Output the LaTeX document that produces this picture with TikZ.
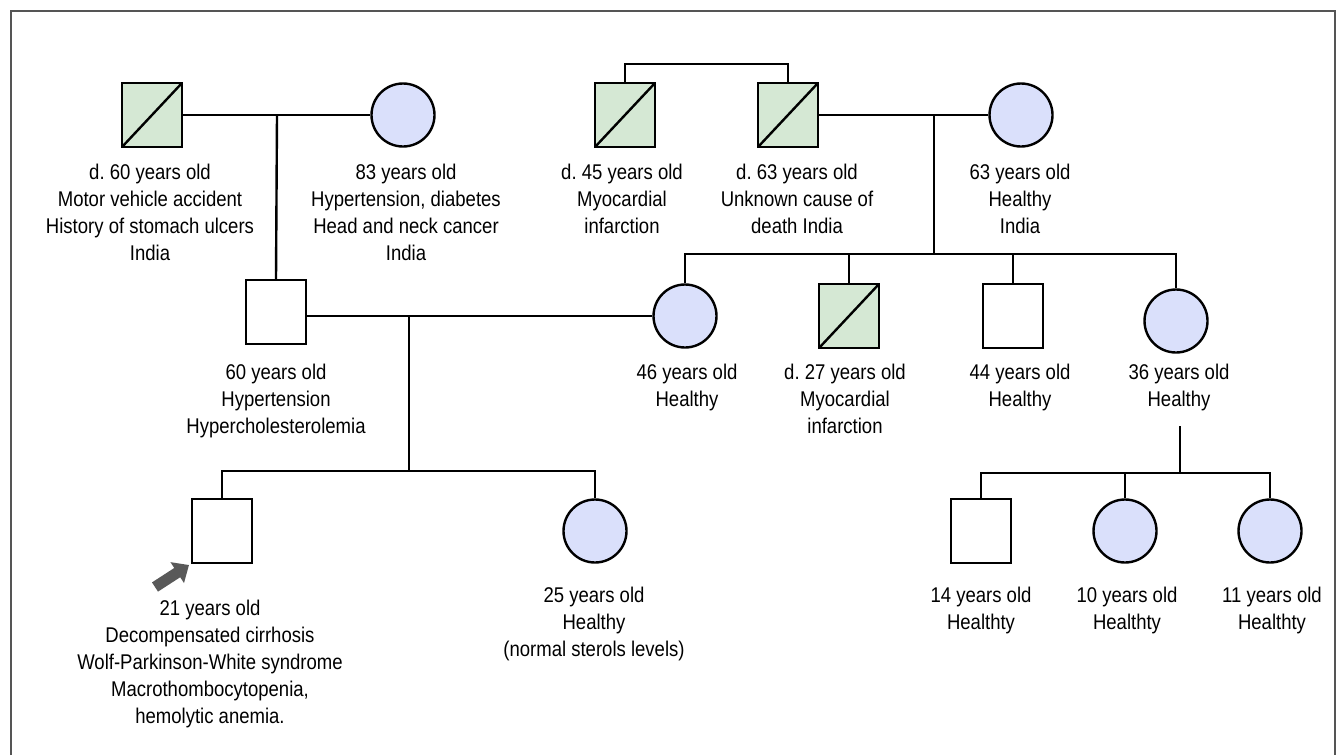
\documentclass[tikz,border=0pt]{standalone}
\usepackage{fontspec}
\setmainfont{Liberation Sans}[FakeStretch=0.87]
\usetikzlibrary{arrows.meta}
\definecolor{deadgreen}{HTML}{D5E8D4}
\definecolor{femblue}{HTML}{DAE0FB}
\definecolor{framegray}{HTML}{555555}
\definecolor{arrowgray}{HTML}{595959}
\tikzset{
  line/.style={line width=2.4pt, black},
  male/.style={draw, line width=2.4pt, rectangle, minimum width=60pt, minimum height=64pt, inner sep=0pt, fill=white},
  female/.style={draw, line width=2.4pt, circle, minimum size=63pt, inner sep=0pt, fill=femblue},
  dead/.style={male, fill=deadgreen, path picture={\draw[line width=2.4pt] (path picture bounding box.south west) -- (path picture bounding box.north east);}},
  lbl/.style={align=center, inner sep=0pt, anchor=north, font=\fontsize{21.3}{27}\selectfont}
}
\frenchspacing
\begin{document}
\frenchspacing
\begin{tikzpicture}[x=1pt,y=-1pt]
\useasboundingbox (0,0) rectangle (1337,755);
% frame (open at the bottom)
\draw[framegray, line width=1.6pt] (11,755) -- (11,11) -- (1335,11) -- (1335,755);

% generation I
\node[dead]   (pgf) at (152,115) {};
\node[female] (pgm) at (403,115) {};
\node[dead]   (unc) at (625,115) {};
\node[dead]   (mgf) at (788,115) {};
\node[female] (mgm) at (1021,115) {};

% generation II
\node[male]   (fa)  at (276,312) {};
\node[female] (mo)  at (685,316) {};
\node[dead]   (db)  at (849,316) {};
\node[male]   (b44) at (1013,316) {};
\node[female] (s36) at (1176,321) {};

% generation III
\node[male]   (pro) at (222,531) {};
\node[female] (sis) at (595,531) {};
\node[male]   (c14) at (981,531) {};
\node[female] (c10) at (1125,531) {};
\node[female] (c11) at (1270,531) {};

% junction coordinates
\coordinate (j1) at (277,115);
\coordinate (j2) at (934,115);
\coordinate (j2b) at (934,254);
\coordinate (j3) at (409,316);
\coordinate (j3b) at (409,471);
\coordinate (j4) at (1180,426);
\coordinate (j4b) at (1180,473);
\coordinate (atail) at (155,587);
\coordinate (atip) at (189,565);

% connectors
\draw[line] (pgf.east) -- (pgm.west);
\draw[line] (j1) -- (fa.north);
\draw[line] (unc.north) -- ++(0,-18) -| (mgf.north);
\draw[line] (mgf.east) -- (mgm.west);
\draw[line] (j2) -- (j2b);
\draw[line] (mo.north) -- (mo.north |- j2b) -| (s36.north);
\draw[line] (db.north) -- (db.north |- j2b);
\draw[line] (b44.north) -- (b44.north |- j2b);
\draw[line] (fa.east |- mo.west) -- (mo.west);
\draw[line] (j3) -- (j3b);
\draw[line] (pro.north) -- (pro.north |- j3b) -| (sis.north);
\draw[line] (j4) -- (j4b);
\draw[line] (c14.north) -- (c14.north |- j4b) -| (c11.north);
\draw[line] (c10.north) -- (c10.north |- j4b);

% proband arrow
\draw[arrowgray, line width=11pt, -{Triangle[width=24pt,length=14pt]}] (atail) -- (atip);

% labels
\node[lbl] (tpgf) at (150,164) {d. 60 years old\\Motor vehicle accident\\History of stomach ulcers\\India};
\node[lbl] (tpgm) at (406,164) {83 years old\\Hypertension, diabetes\\Head and neck cancer\\India};
\node[lbl] (tunc) at (622,164) {d. 45 years old\\Myocardial\\infarction};
\node[lbl] (tmgf) at (797,164) {d. 63 years old\\Unknown cause of\\death India};
\node[lbl] (tmgm) at (1020,164) {63 years old\\Healthy\\India};
\node[lbl] (tfa)  at (276,364) {60 years old\\Hypertension\\Hypercholesterolemia};
\node[lbl] (tmo)  at (687,364) {46 years old\\Healthy};
\node[lbl] (tdb)  at (845,364) {d. 27 years old\\Myocardial\\infarction};
\node[lbl] (tb44) at (1020,364) {44 years old\\Healthy};
\node[lbl] (ts36) at (1179,364) {36 years old\\Healthy};
\node[lbl] (tpro) at (210,600) {21 years old\\Decompensated cirrhosis\\Wolf-Parkinson-White syndrome\\Macrothombocytopenia,\\hemolytic anemia.};
\node[lbl] (tsis) at (594,587) {25 years old\\Healthy\\(normal sterols levels)};
\node[lbl] (tc14) at (981,587) {14 years old\\Healthty};
\node[lbl] (tc10) at (1127,587) {10 years old\\Healthty};
\node[lbl] (tc11) at (1272,587) {11 years old\\Healthty};
\end{tikzpicture}
\end{document}
